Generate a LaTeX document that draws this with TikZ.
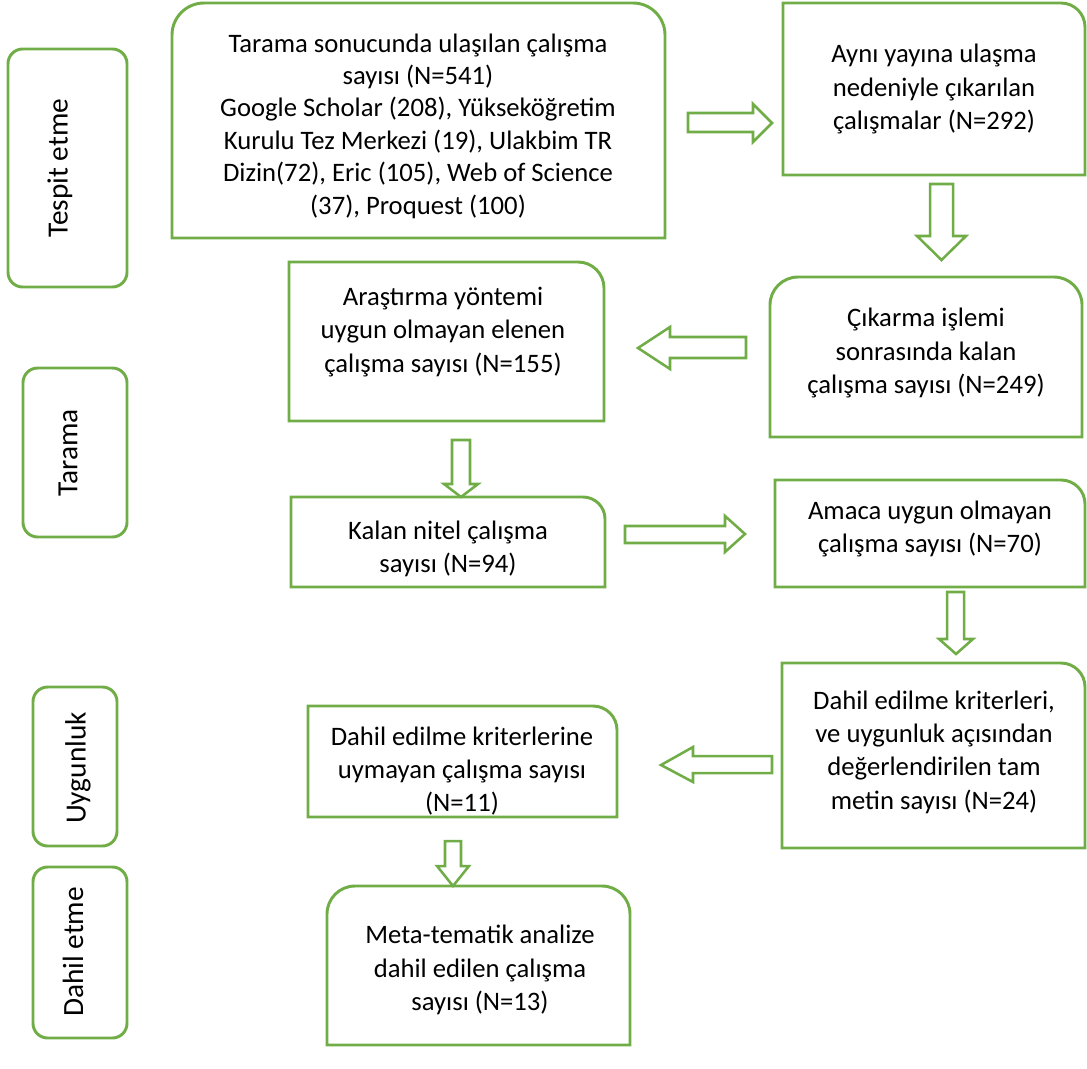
\documentclass[tikz,border=0pt]{standalone}
\usepackage{fontspec}
\setmainfont{Carlito}
\definecolor{gr}{HTML}{70AD47}
\begin{document}
\begin{tikzpicture}[x=0.75pt,y=0.75pt,
  txt/.style={align=center,font=\fontsize{20}{25}\selectfont,text=black,inner sep=0pt},
  sidetxt/.style={font=\fontsize{22}{26}\selectfont,text=black,inner sep=0pt,rotate=90},
  box/.style={draw=gr,line width=2.2pt,line join=miter},
  side/.style={draw=gr,line width=2.2pt,rounded corners=11pt},
  barrow/.style={draw=gr,line width=1.9pt,fill=white,line join=miter}]
\useasboundingbox (0,0) rectangle (1087,-1068);

% side labels
\draw[side] (8,-49) rectangle (127,-287);
\node[sidetxt] (s1) at (60,-168) {Tespit etme};
\draw[side] (23,-368) rectangle (127,-537);
\node[sidetxt] (s2) at (68,-453) {Tarama};
\draw[side] (33,-687) rectangle (117,-846);
\node[sidetxt] (s3) at (78,-768) {Uygunluk};
\draw[side] (33,-867) rectangle (127,-1038);
\node[sidetxt] (s4) at (73,-952) {Dahil etme};

% box 1
\draw[box] (172,-238) -- (172,-35) arc[start angle=180,end angle=90,radius=32]
  -- (633,-3) arc[start angle=90,end angle=0,radius=32] -- (665,-238) -- cycle;
\node[txt,font=\fontsize{20}{24.3}\selectfont] (t1) at (418,-126) {Tarama sonucunda ulaşılan çalışma\\sayısı (N=541)\\Google Scholar (208), Yükseköğretim\\Kurulu Tez Merkezi (19), Ulakbim TR\\Dizin(72), Eric (105), Web of Science\\(37), Proquest (100)};

% box 2
\draw[box] (783,-175) -- (783,-3) -- (1061,-3) arc[start angle=90,end angle=0,radius=24] -- (1085,-175) -- cycle;
\node[txt] (t2) at (934,-89) {Aynı yayına ulaşma\\nedeniyle çıkarılan\\çalışmalar (N=292)};

% box 3
\draw[box] (289,-421) -- (289,-262) -- (578,-262) arc[start angle=90,end angle=0,radius=26] -- (604,-421) -- cycle;
\node[txt] (t3) at (443,-332) {Araştırma yöntemi\\uygun olmayan elenen\\çalışma sayısı (N=155)};

% box 4
\draw[box] (770,-437) -- (770,-305) arc[start angle=180,end angle=90,radius=28]
  -- (1054,-277) arc[start angle=90,end angle=0,radius=28] -- (1082,-437) -- cycle;
\node[txt] (t4) at (926,-353) {Çıkarma işlemi\\sonrasında kalan\\çalışma sayısı (N=249)};

% box 5
\draw[box] (291,-587) -- (291,-497) -- (583,-497) arc[start angle=90,end angle=0,radius=22] -- (605,-587) -- cycle;
\node[txt] (t5) at (448,-549) {Kalan nitel çalışma\\sayısı (N=94)};

% box 6
\draw[box] (775,-587) -- (775,-480) -- (1061,-480) arc[start angle=90,end angle=0,radius=24] -- (1085,-587) -- cycle;
\node[txt] (t6) at (930,-529) {Amaca uygun olmayan\\çalışma sayısı (N=70)};

% box 7
\draw[box] (782,-848) -- (782,-663) -- (1061,-663) arc[start angle=90,end angle=0,radius=24] -- (1085,-848) -- cycle;
\node[txt] (t7) at (934,-752) {Dahil edilme kriterleri,\\ve uygunluk açısından\\değerlendirilen tam\\metin sayısı (N=24)};

% box 8
\draw[box] (308,-817) -- (308,-706) -- (593,-706) arc[start angle=90,end angle=0,radius=24] -- (617,-817) -- cycle;
\node[txt] (t8) at (462,-771) {Dahil edilme kriterlerine\\uymayan çalışma sayısı\\(N=11)};

% box 9
\draw[box] (327,-1045) -- (327,-914) arc[start angle=180,end angle=90,radius=28]
  -- (602,-886) arc[start angle=90,end angle=0,radius=28] -- (630,-1045) -- cycle;
\node[txt] (t9) at (480,-970) {Meta-tematik analize\\dahil edilen çalışma\\sayısı (N=13)};

% block arrows
\draw[barrow] (688,-113) -- (753,-113) -- (753,-104) -- (772,-123) -- (753,-142) -- (753,-132) -- (688,-132) -- cycle;
\draw[barrow] (930,-184) -- (953,-184) -- (953,-236) -- (966,-236) -- (941.5,-260) -- (917,-236) -- (930,-236) -- cycle;
\draw[barrow] (746,-337) -- (670,-337) -- (670,-327) -- (638,-348) -- (670,-369) -- (670,-358) -- (746,-358) -- cycle;
\draw[barrow] (452,-440) -- (470,-440) -- (470,-484) -- (478,-484) -- (461,-497) -- (444,-484) -- (452,-484) -- cycle;
\draw[barrow] (625,-526) -- (725,-526) -- (725,-516) -- (745,-534) -- (725,-552) -- (725,-543) -- (625,-543) -- cycle;
\draw[barrow] (947,-592) -- (964,-592) -- (964,-639) -- (973,-639) -- (956,-654) -- (939,-639) -- (947,-639) -- cycle;
\draw[barrow] (772,-756) -- (693,-756) -- (693,-747) -- (661,-765) -- (693,-782) -- (693,-773) -- (772,-773) -- cycle;
\draw[barrow] (445,-841) -- (461,-841) -- (461,-866) -- (469,-866) -- (453,-886) -- (437,-866) -- (445,-866) -- cycle;
\end{tikzpicture}
\end{document}
